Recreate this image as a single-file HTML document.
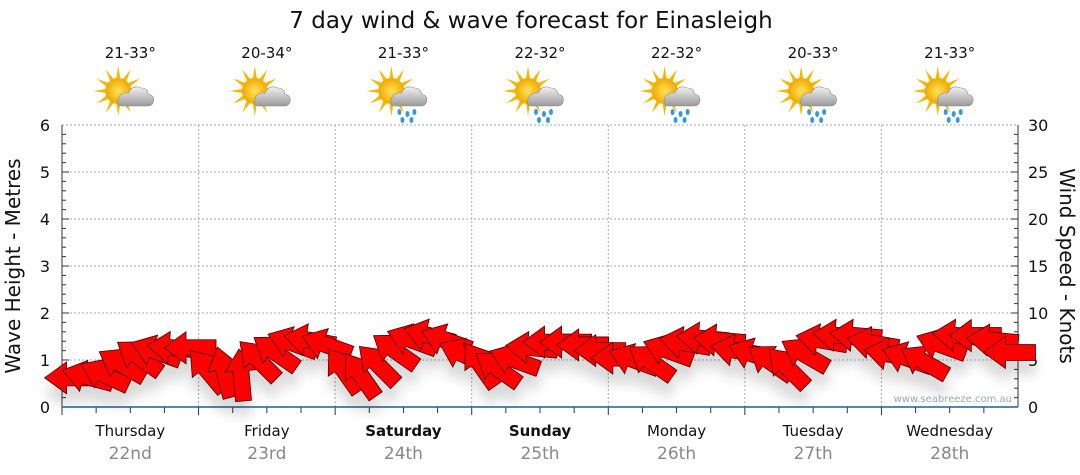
<!DOCTYPE html>
<html><head><meta charset="utf-8">
<style>
body{margin:0;background:#fff;font-family:"DejaVu Sans","Liberation Sans",sans-serif;}
svg{display:block}
</style></head>
<body>
<svg id="chart" width="1080" height="475" viewBox="0 0 1080 475" font-family="DejaVu Sans, Liberation Sans, sans-serif">
<defs>
<filter id="sh" x="-50%" y="-50%" width="200%" height="250%">
<feDropShadow dx="0" dy="14" stdDeviation="6" flood-color="#000" flood-opacity="0.15"/>
</filter>
<radialGradient id="sun" cx="0.5" cy="0.5" r="0.5"><stop offset="0" stop-color="#ffe25a"/><stop offset="1" stop-color="#f0a800"/></radialGradient>
<linearGradient id="cloud" x1="0" y1="0" x2="0" y2="1"><stop offset="0" stop-color="#f2f2f2"/><stop offset="1" stop-color="#9a9a9a"/></linearGradient>
</defs>
<text x="531" y="28" font-size="23" text-anchor="middle" fill="#111">7 day wind &amp; wave forecast for Einasleigh</text>
<g id="grid"></g>
<g id="axes"></g>
<g id="icons"></g>
<g id="arrows" filter="url(#sh)"></g>
<text x="1012" y="402" font-size="10" fill="#9aa7b8" text-anchor="end">www.seabreeze.com.au</text>
<text transform="translate(20,266) rotate(-90)" font-size="20" text-anchor="middle" fill="#111">Wave Height - Metres</text>
<text transform="translate(1060,266) rotate(90)" font-size="20" text-anchor="middle" fill="#111">Wind Speed - Knots</text>
</svg>
<script>
const days=["Thursday","Friday","Saturday","Sunday","Monday","Tuesday","Wednesday"];
const dates=["22nd","23rd","24th","25th","26th","27th","28th"];
const boldDays=[false,false,true,true,false,false,false];
const temps=["21-33°","20-34°","21-33°","22-32°","22-32°","20-33°","21-33°"];
const rainy=[false,false,true,true,true,true,true];
const waveTicks=[0,1,2,3,4,5,6];
const windTicks=[0,5,10,15,20,25,30];
const windSpeed=[3.1,3.2,3.4,4.5,5.3,5.9,6.3,6.3,
 3.9,3.7,3.4,5.0,5.8,6.8,7.1,6.6,
 3.9,3.4,4.5,6.0,7.1,7.6,7.1,5.6,
 4.5,4.1,5.0,6.3,6.9,6.9,6.6,6.0,
 5.2,5.0,4.8,6.0,6.8,7.3,7.1,6.0,
 5.6,4.8,4.2,5.6,7.1,7.6,7.6,6.8,
 5.6,5.2,4.8,6.6,7.6,7.6,7.1,5.8];
const windDir=[180,195,205,210,215,200,185,180,
 230,255,265,225,215,200,190,200,
 235,235,225,215,200,195,200,205,
 235,215,200,185,180,180,180,180,
 180,200,215,200,190,185,185,190,
 200,215,225,210,190,185,185,190,
 190,200,210,200,185,180,185,180];
const ns="http://www.w3.org/2000/svg";
const X0=62,X1=1018,Y0=407,Y1=125;
const dayW=(X1-X0)/7;
const yWave=v=>Y0-(Y0-Y1)*v/6;
const yWind=v=>Y0-(Y0-Y1)*v/30;
const xIdx=i=>X0+dayW*(i+0.5)/8;
function mk(t,a,p){const e=document.createElementNS(ns,t);for(const k in a)e.setAttribute(k,a[k]);(p||document.getElementById('chart')).appendChild(e);return e;}
const grid=document.getElementById('grid'),axes=document.getElementById('axes'),icons=document.getElementById('icons'),arr=document.getElementById('arrows');
waveTicks.forEach(v=>{if(v>0){const l=mk('line',{x1:X0,x2:X1,y1:yWave(v),y2:yWave(v),stroke:'#aaa','stroke-dasharray':'2,2'},grid);

}
const t=mk('text',{x:50,y:yWave(v)+6,'font-size':16,'text-anchor':'end',fill:'#111'},axes);t.textContent=v;

});
for(let k=1;k<30;k++){const y=Y0-(Y0-Y1)*k/30;mk('line',{x1:X0,x2:X0+(k%5?4:7),y1:y,y2:y,stroke:'#333'},axes);mk('line',{x1:X1,x2:X1-(k%5?4:7),y1:y,y2:y,stroke:'#333'},axes);}
windTicks.forEach(v=>{const t=mk('text',{x:1028,y:yWind(v)+6,'font-size':16,fill:'#111'},axes);t.textContent=v;

});
mk('line',{x1:X0,x2:X0,y1:Y1,y2:Y0,stroke:'#333'},axes);
mk('line',{x1:X1,x2:X1,y1:Y1,y2:Y0,stroke:'#333'},axes);
for(let d=0;d<7;d++){
 const x=X0+dayW*d;
 if(d>0){const l=mk('line',{x1:x,x2:x,y1:Y1,y2:Y0,stroke:'#aaa','stroke-dasharray':'2,2'},grid);
 
 }
 for(let q=0;q<4;q++){const tx=x+dayW*q/4;mk('line',{x1:tx,x2:tx,y1:Y0,y2:Y0+(q?6:8),stroke:'#333'},axes);}
 const cx=x+dayW/2;
 const t=mk('text',{x:cx,y:436,'font-size':15,'text-anchor':'middle',fill:'#111','font-weight':boldDays[d]?'bold':'normal'},axes);t.textContent=days[d];
 
 
 const t2=mk('text',{x:cx,y:459,'font-size':17,'text-anchor':'middle',fill:'#888'},axes);t2.textContent=dates[d];
 
 
 const t3=mk('text',{x:cx,y:58,'font-size':15,'text-anchor':'middle',fill:'#111'},icons);t3.textContent=temps[d];
 
 
 const g=mk('g',{transform:`translate(${cx-2},96)`},icons);
 
 
 for(let r=0;r<12;r++){const a=r*Math.PI/6;mk('polygon',{points:`${-10+Math.cos(a)*25},${-5+Math.sin(a)*25} ${-10+Math.cos(a+0.18)*12},${-5+Math.sin(a+0.18)*12} ${-10+Math.cos(a-0.18)*12},${-5+Math.sin(a-0.18)*12}`,fill:'#f5b800'},g);}
 mk('circle',{cx:-10,cy:-5,r:13,fill:'url(#sun)'},g);
 mk('path',{d:'M-6,10 Q-12,10 -10,3 Q-8,-4 0,-3 Q4,-12 13,-8 Q19,-8 20,-2 Q27,0 25,6 Q24,10 18,10 Z',fill:'url(#cloud)',stroke:'#888','stroke-width':0.6},g);
 if(rainy[d]){[[-2,16],[6,18],[13,16],[1,24],[10,24]].forEach(p=>mk('ellipse',{cx:p[0],cy:p[1],rx:2,ry:3,fill:'#3399dd'},g));}
}
mk('line',{x1:X0,x2:X1,y1:Y0,y2:Y0,stroke:'#1f5f8f','stroke-width':1.5},axes);
const L=52,HW=16,SW=8,HL=22;
windSpeed.forEach((s,i)=>{
 const x=xIdx(i),y=yWind(s);
 const p=`${L/2},0 ${L/2-HL},${-HW} ${L/2-HL},${-SW} ${-L/2},${-SW} ${-L/2},${SW} ${L/2-HL},${SW} ${L/2-HL},${HW}`;
 const a=mk('polygon',{points:p,fill:'#ff0000',stroke:'#4a0000','stroke-width':0.8,transform:`translate(${x},${y}) rotate(${windDir[i]})`},arr);
 
 
});
</script>
</body></html>
